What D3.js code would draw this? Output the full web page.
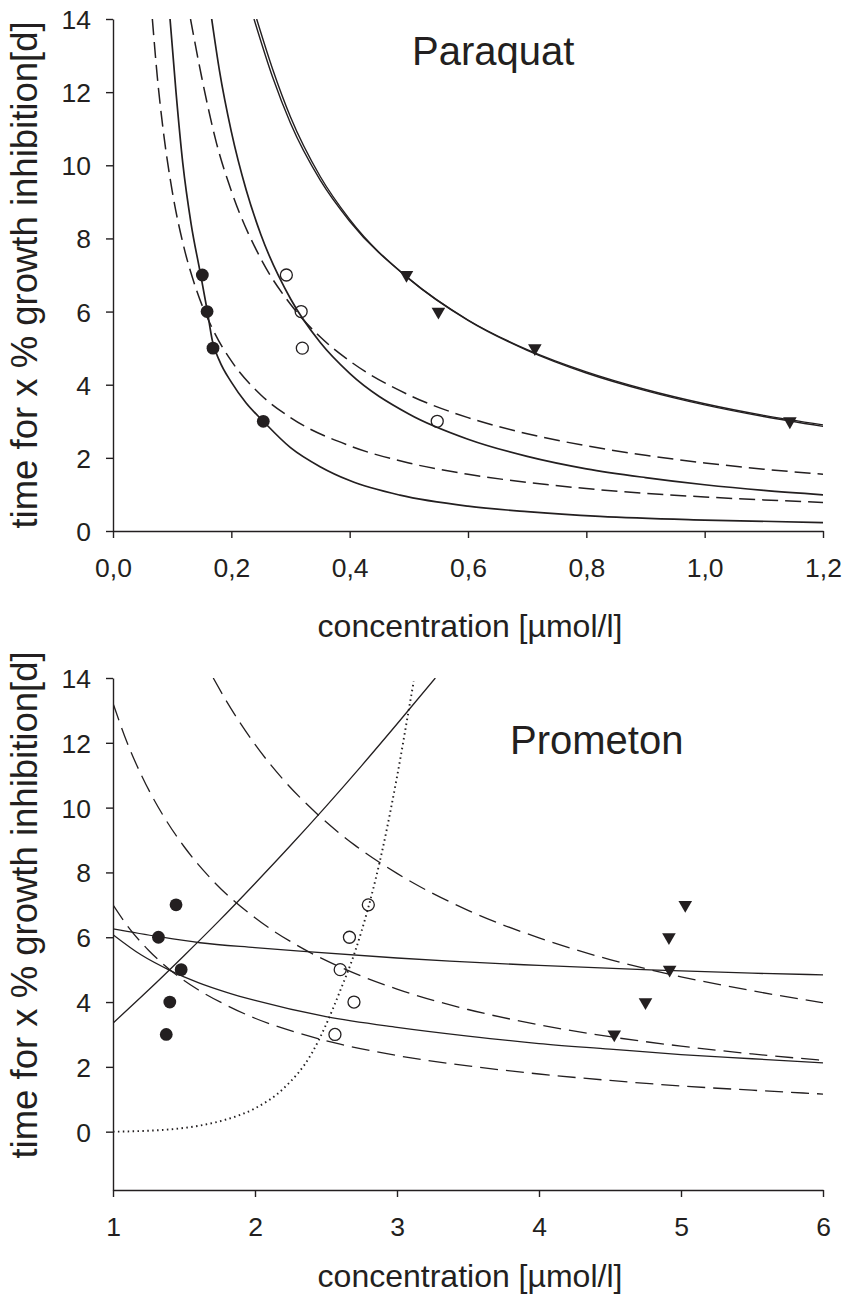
<!DOCTYPE html>
<html>
<head>
<meta charset="utf-8">
<script src="https://cdn.jsdelivr.net/npm/d3@7"></script>
<style>
  html, body { margin: 0; padding: 0; background: #fff; }
  svg { display: block; font-family: "Liberation Sans", Arial, sans-serif; }
</style>
</head>
<body>
<svg id="chart" width="845" height="1297"></svg>
<script>
// ---------- Paraquat panel ----------
const pqConcTicks = [0, 0.2, 0.4, 0.6, 0.8, 1.0, 1.2];
const pqTimeTicks = [0, 2, 4, 6, 8, 10, 12, 14];

// measured points [concentration µmol/l, time d]
const pqFilled   = [[0.151, 7], [0.159, 6], [0.169, 5], [0.254, 3]];
const pqOpen     = [[0.293, 7], [0.318, 6], [0.320, 5], [0.548, 3]];
const pqTriangle = [[0.496, 7], [0.550, 6], [0.713, 5], [1.144, 3]];

// fitted curves
const pqSolidA = [[0.0964, 14], [0.1065, 12], [0.118, 10.05], [0.132, 8.4], [0.147, 7.1], [0.159, 6.05],
  [0.168, 5.2], [0.180, 4.65], [0.200, 4.07], [0.225, 3.5], [0.254, 3.0], [0.300, 2.28], [0.350, 1.76],
  [0.400, 1.38], [0.485, 0.98], [0.600, 0.68], [0.700, 0.53], [0.823, 0.40], [1.000, 0.30], [1.200, 0.23]];
const pqDashB = [[0.0665, 14], [0.075, 12.4], [0.085, 10.94], [0.100, 9.3], [0.120, 7.75], [0.140, 6.64],
  [0.170, 5.47], [0.200, 4.65], [0.250, 3.72], [0.300, 3.1], [0.400, 2.33], [0.500, 1.86], [0.600, 1.55],
  [0.700, 1.33], [0.800, 1.16], [0.900, 1.03], [1.000, 0.93], [1.100, 0.85], [1.200, 0.78]];
const pqDashC = [[0.131, 14], [0.150, 12.4], [0.175, 10.6], [0.200, 9.3], [0.250, 7.44], [0.300, 6.2],
  [0.350, 5.31], [0.400, 4.65], [0.500, 3.72], [0.600, 3.1], [0.700, 2.66], [0.800, 2.33], [0.900, 2.07],
  [1.000, 1.86], [1.100, 1.69], [1.200, 1.55]];
const pqSolidD = [[0.1668, 14], [0.180, 12.58], [0.200, 10.92], [0.225, 9.33], [0.250, 8.1], [0.300, 6.35],
  [0.350, 5.16], [0.400, 4.31], [0.500, 3.2], [0.600, 2.51], [0.700, 2.04], [0.800, 1.7], [0.900, 1.46],
  [1.000, 1.264], [1.100, 1.11], [1.200, 0.99]];
const pqSolidE = [[0.2383, 14], [0.270, 12.4], [0.300, 11.15], [0.350, 9.6], [0.400, 8.47], [0.500, 6.9],
  [0.600, 5.77], [0.700, 4.96], [0.800, 4.35], [0.900, 3.87], [1.000, 3.48], [1.100, 3.16], [1.200, 2.90]];
const pqSolidF = [[0.2428, 14], [0.270, 12.62], [0.300, 11.32], [0.350, 9.7], [0.400, 8.52], [0.500, 6.9],
  [0.600, 5.76], [0.700, 4.94], [0.800, 4.32], [0.900, 3.84], [1.000, 3.45], [1.100, 3.13], [1.200, 2.86]];

// ---------- Prometon panel ----------
const prConcTicks = [1, 2, 3, 4, 5, 6];
const prTimeTicks = [0, 2, 4, 6, 8, 10, 12, 14];

const prFilled   = [[1.444, 7], [1.320, 6], [1.480, 5], [1.400, 4], [1.375, 3]];
const prOpen     = [[2.798, 7], [2.665, 6], [2.600, 5], [2.697, 4], [2.563, 3]];
const prTriangle = [[5.030, 7], [4.915, 6], [4.920, 5], [4.750, 4], [4.530, 3]];

const prSolidG = [[1.0, 3.35], [1.25, 4.37], [1.5, 5.43], [1.75, 6.52], [2.0, 7.66], [2.25, 8.83],
  [2.5, 10.04], [2.75, 11.29], [3.0, 12.58], [3.27, 14.0]];
const prDotH = [[1.0, 0.0], [1.2, 0.02], [1.4, 0.07], [1.6, 0.18], [1.8, 0.38], [2.0, 0.72], [2.2, 1.33],
  [2.4, 2.42], [2.5, 3.3], [2.6, 4.35], [2.7, 5.5], [2.8, 6.95], [2.9, 8.75], [3.0, 10.95], [3.1, 13.45],
  [3.118, 13.9]];
const prSolidI = [[1.0, 6.26], [1.319, 6.02], [1.613, 5.83], [2.0, 5.68], [2.317, 5.57], [3.0, 5.36],
  [3.373, 5.26], [4.0, 5.13], [4.78, 4.99], [5.5, 4.89], [6.0, 4.84]];
const prSolidJ = [[1.0, 6.08], [1.2, 5.45], [1.4, 4.98], [1.6, 4.6], [1.8, 4.3], [2.0, 4.05], [2.5, 3.55],
  [3.0, 3.22], [3.5, 2.95], [4.0, 2.72], [4.5, 2.55], [5.0, 2.38], [5.5, 2.25], [6.0, 2.12]];
const prDashK = [[1.0, 7.0], [1.1, 6.36], [1.25, 5.6], [1.4, 5.0], [1.6, 4.38], [1.8, 3.9], [2.0, 3.5],
  [2.3, 3.05], [2.6, 2.7], [3.0, 2.35], [3.5, 2.03], [4.0, 1.78], [4.5, 1.58], [5.0, 1.41], [5.5, 1.28],
  [6.0, 1.16]];
const prDashL = [[1.0, 13.22], [1.1, 12.0], [1.2, 11.0], [1.35, 9.78], [1.5, 8.8], [1.7, 7.76], [2.0, 6.6],
  [2.3, 5.74], [2.6, 5.08], [3.0, 4.4], [3.5, 3.77], [4.0, 3.3], [4.5, 2.93], [5.0, 2.64], [5.5, 2.4],
  [6.0, 2.2]];
const prDashM = [[1.706, 14], [1.8, 13.28], [2.0, 11.95], [2.2, 10.86], [2.434, 9.82], [2.7, 8.85],
  [3.0, 7.97], [3.5, 6.83], [4.0, 5.98], [4.5, 5.31], [5.0, 4.78], [5.5, 4.35], [6.0, 3.98]];

const yTitle = "time for x % growth inhibition[d]";
const xTitle = "concentration [µmol/l]";

// ---------- drawing ----------
const INK = "#231f20";
const svg = d3.select("#chart");
const commaFmt = d3.formatLocale({ decimal: ",", thousands: ".", grouping: [3], currency: ["", ""] }).format(".1f");

function drawPanel(p) {
  const g = svg.append("g");
  const x = d3.scaleLinear().domain(p.xDomain).range([113, 823]);
  const y = d3.scaleLinear().domain(p.yDomain).range([p.bottom, p.top]);

  const clipId = "clip-" + p.id;
  svg.append("clipPath").attr("id", clipId)
    .append("rect").attr("x", 113).attr("y", p.top).attr("width", 823 - 113).attr("height", p.bottom - p.top);

  // curves
  const line = d3.line().x(d => x(d[0])).y(d => y(d[1])).curve(d3.curveMonotoneX);
  const curves = g.append("g").attr("clip-path", `url(#${clipId})`);
  p.curves.forEach(c => {
    curves.append("path")
      .attr("d", line(c.data))
      .attr("fill", "none")
      .attr("stroke", INK)
      .attr("stroke-width", c.width)
      .attr("stroke-dasharray", c.dash || null)
      .attr("stroke-linecap", c.cap || "butt");
  });

  // axes
  const xAxis = g.append("g").attr("transform", `translate(0,${p.bottom})`)
    .call(d3.axisBottom(x).tickValues(p.xTicks).tickSize(7).tickSizeOuter(0).tickFormat(p.xFormat));
  const yAxis = g.append("g").attr("transform", "translate(113,0)")
    .call(d3.axisLeft(y).tickValues(p.yTicks).tickSize(7).tickSizeOuter(0).tickFormat(d3.format("d")));
  [xAxis, yAxis].forEach(a => {
    a.select(".domain").attr("stroke", INK).attr("stroke-width", 1.4);
    a.selectAll(".tick line").attr("stroke", INK).attr("stroke-width", 1.4);
    a.selectAll(".tick text").attr("fill", INK).attr("font-size", 26.5)
      .attr("font-family", '"Liberation Sans", Arial, sans-serif');
  });
  xAxis.selectAll(".tick text").attr("y", 46).attr("dy", 0);
  yAxis.selectAll(".tick text").attr("x", -22).attr("dy", "0.36em");

  // markers
  g.selectAll(null).data(p.filled).join("circle")
    .attr("cx", d => x(d[0])).attr("cy", d => y(d[1])).attr("r", 6.4).attr("fill", INK);
  g.selectAll(null).data(p.open).join("circle")
    .attr("cx", d => x(d[0])).attr("cy", d => y(d[1])).attr("r", 6)
    .attr("fill", "none").attr("stroke", INK).attr("stroke-width", 1.3);
  const tri = d3.symbol().type(d3.symbolTriangle).size(80);
  g.selectAll(null).data(p.triangles).join("path")
    .attr("d", tri)
    .attr("transform", d => `translate(${x(d[0])},${y(d[1])}) rotate(180)`)
    .attr("fill", INK);

  // titles
  g.append("text").attr("x", p.nameX).attr("y", p.nameY)
    .attr("font-size", 40).attr("fill", INK).text(p.name);
  g.append("text").attr("x", 470).attr("y", p.xTitleY).attr("text-anchor", "middle")
    .attr("font-size", 32).attr("fill", INK).text(xTitle);
  g.append("text").attr("transform", `translate(37,${p.yTitleMid}) rotate(-90)`)
    .attr("text-anchor", "middle").attr("font-size", 36.5).attr("fill", INK).text(yTitle);
}

drawPanel({
  id: "paraquat", name: "Paraquat", nameX: 412, nameY: 65,
  xDomain: [0, 1.2], yDomain: [0, 14], top: 19, bottom: 531,
  xTicks: pqConcTicks, yTicks: pqTimeTicks, xFormat: commaFmt,
  xTitleY: 637, yTitleMid: 275,
  filled: pqFilled, open: pqOpen, triangles: pqTriangle,
  curves: [
    { data: pqSolidA, width: 1.7 },
    { data: pqDashB, width: 1.5, dash: "16,7" },
    { data: pqDashC, width: 1.5, dash: "16,7" },
    { data: pqSolidD, width: 1.7 },
    { data: pqSolidE, width: 1.4 },
    { data: pqSolidF, width: 1.4 }
  ]
});

drawPanel({
  id: "prometon", name: "Prometon", nameX: 510, nameY: 754,
  xDomain: [1, 6], yDomain: [-1.8, 14], top: 678, bottom: 1190,
  xTicks: prConcTicks, yTicks: prTimeTicks, xFormat: d3.format("d"),
  xTitleY: 1287, yTitleMid: 905,
  filled: prFilled, open: prOpen, triangles: prTriangle,
  curves: [
    { data: prSolidG, width: 1.3 },
    { data: prDotH, width: 1.9, dash: "1.5,3.4" },
    { data: prSolidI, width: 1.3 },
    { data: prSolidJ, width: 1.3 },
    { data: prDashK, width: 1.3, dash: "18,8" },
    { data: prDashL, width: 1.3, dash: "18,8" },
    { data: prDashM, width: 1.3, dash: "18,8" }
  ]
});
</script>
</body>
</html>
